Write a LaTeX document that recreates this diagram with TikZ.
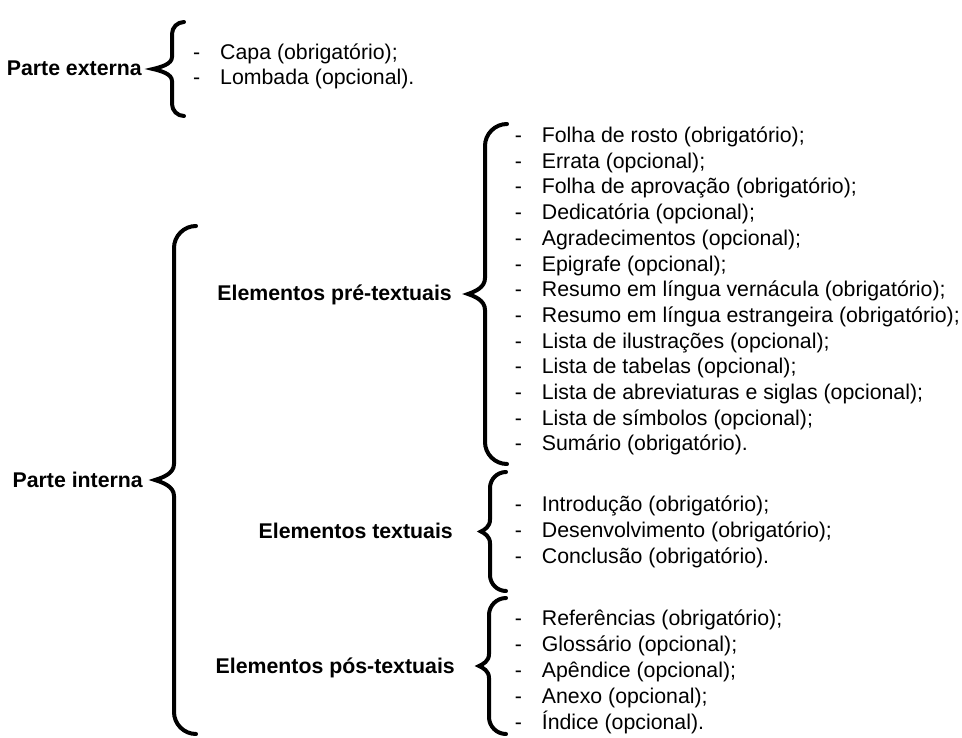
\documentclass[tikz,border=0pt]{standalone}
\usepackage{fontspec}
\setmainfont{Liberation Sans}
\usepackage{tikz}
\usetikzlibrary{calc}
\usetikzlibrary{positioning}
\tikzstyle{grupo} = [font=\bfseries\fontsize{21.3}{25}\selectfont, anchor=east,
    inner sep=0pt, text height=15pt, text depth=0pt]
\tikzstyle{item} = [font=\fontsize{21.3}{25}\selectfont, anchor=west,
    inner sep=0pt, text height=15pt, text depth=0pt]
% brace drawn from top end to bottom end: {hook}{tip}{tip curve}
\tikzset{chave/.style n args={3}{draw, line width=4pt, line cap=round, to path={
    let \p1=(\tikztostart), \p2=(\tikztotarget), \n1={(\y1+\y2)/2} in
    .. controls (\x1-0.55*#1,\y1) and (\x1-#1,\y1-0.45*#1) .. (\x1-#1,\y1-#1)
    -- (\x1-#1,\n1+#3)
    .. controls (\x1-#1,\n1+0.4*#3) and (\x1-#1-0.6*#2,\n1+0.15*#3) .. (\x1-#1-#2,\n1)
    .. controls (\x1-#1-0.6*#2,\n1-0.15*#3) and (\x1-#1,\n1-0.4*#3) .. (\x1-#1,\n1-#3)
    -- (\x2-#1,\y2+#1)
    .. controls (\x2-#1,\y2+0.45*#1) and (\x2-0.55*#1,\y2) .. (\x2,\y2)}}}
\newcommand{\traco}{\llap{\makebox[27pt][l]{-}}}

\begin{document}
\begin{tikzpicture}[x=1pt, y=-1pt]
    \useasboundingbox (0,0) rectangle (962,737);

    % We start by placing the ends of the braces
    \coordinate (extTop) at (184,22);
    \coordinate (extBot) at (184,116);
    \coordinate (intTop) at (196,226);
    \coordinate (intBot) at (196,734);
    \coordinate (preTop) at (507,124);
    \coordinate (preBot) at (507,464);
    \coordinate (texTop) at (506,472);
    \coordinate (texBot) at (506,591);
    \coordinate (posTop) at (506,598);
    \coordinate (posBot) at (506,734);

    % The braces themselves
    \draw [chave={12pt}{19pt}{12pt}] (extTop) to (extBot);
    \draw [chave={22pt}{19pt}{16pt}] (intTop) to (intBot);
    \draw [chave={22pt}{17pt}{16pt}] (preTop) to (preBot);
    \draw [chave={16pt}{9pt}{12pt}] (texTop) to (texBot);
    \draw [chave={17pt}{10pt}{12pt}] (posTop) to (posBot);

    % Group labels, to the left of each tip
    \node [grupo] (externa) at (142,68) {Parte externa};
    \node [grupo] (interna) at (143,480) {Parte interna};
    \node [grupo] (pretext) at (452,293) {Elementos pré-textuais};
    \node [grupo] (textuais) at (453,531) {Elementos textuais};
    \node [grupo] (postext) at (455,666) {Elementos pós-textuais};

    % Lists of items
    \foreach \txt [count=\i] in {Capa (obrigatório);, Lombada (opcional).}
        \node [item] (ext\i) at (220,{52+25*(\i-1)}) {\traco\txt};
    \foreach \txt [count=\i] in {Folha de rosto (obrigatório);, Errata (opcional);,
        Folha de aprovação (obrigatório);, Dedicatória (opcional);,
        Agradecimentos (opcional);, Epigrafe (opcional);,
        Resumo em língua vernácula (obrigatório);,
        Resumo em língua estrangeira (obrigatório);,
        Lista de ilustrações (opcional);, Lista de tabelas (opcional);,
        Lista de abreviaturas e siglas (opcional);,
        Lista de símbolos (opcional);, Sumário (obrigatório).}
        \node [item] (pre\i) at (541.7,{135+25.7*(\i-1)}) {\traco\txt};
    \foreach \txt [count=\i] in {Introdução (obrigatório);,
        Desenvolvimento (obrigatório);, Conclusão (obrigatório).}
        \node [item] (tex\i) at (541.7,{504+26*(\i-1)}) {\traco\txt};
    \foreach \txt [count=\i] in {Referências (obrigatório);, Glossário (opcional);,
        Apêndice (opcional);, Anexo (opcional);, Índice (opcional).}
        \node [item] (pos\i) at (541.7,{618+26*(\i-1)}) {\traco\txt};
\end{tikzpicture}
\end{document}
